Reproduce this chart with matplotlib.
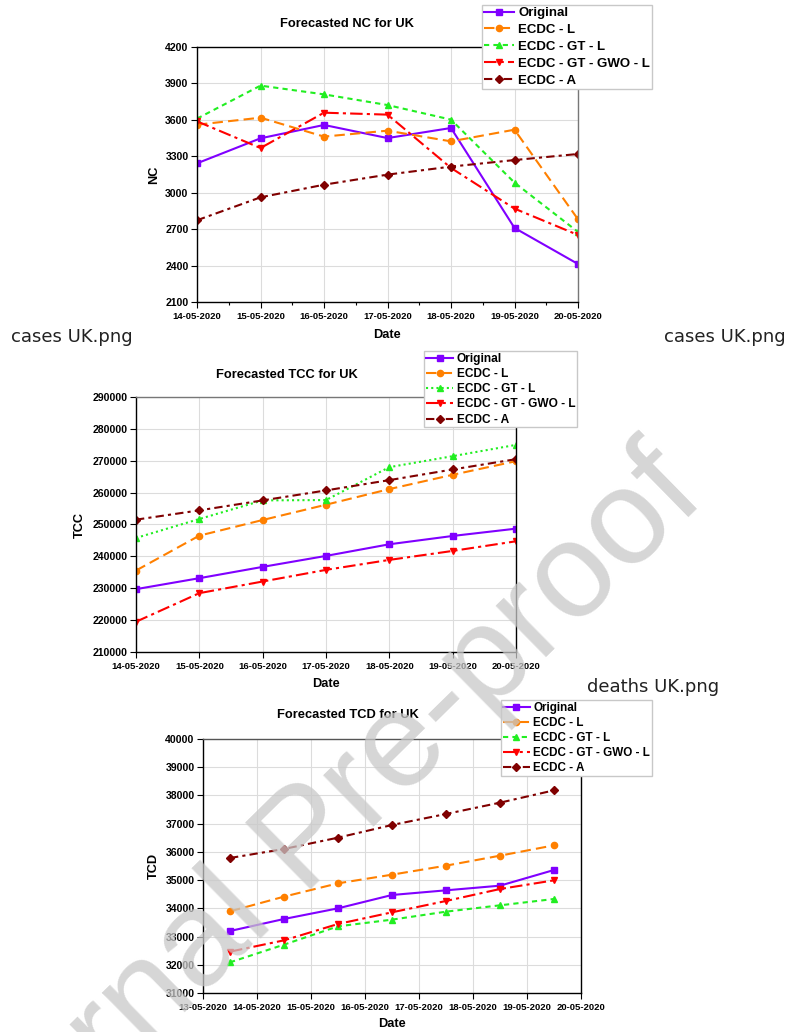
import numpy as np
import pandas as pd
import matplotlib
matplotlib.use("Agg")
import matplotlib.pyplot as plt
import matplotlib.dates as mdates

plt.rcParams['font.family'] = ['Liberation Sans', 'DejaVu Sans']
plt.rcParams['font.weight'] = 'bold'
plt.rcParams['axes.labelweight'] = 'bold'

# ---- data ----
series_names = ["Original", "ECDC - L", "ECDC - GT - L", "ECDC - GT - GWO - L", "ECDC - A"]

days_cases = ["2020-05-14", "2020-05-15", "2020-05-16", "2020-05-17",
              "2020-05-18", "2020-05-19", "2020-05-20"]

nc_original = [3242, 3448, 3558, 3450, 3533, 2710, 2413]
nc_l = [3560, 3618, 3462, 3511, 3423, 3519, 2781]
nc_gt_l = [3610, 3882, 3810, 3722, 3602, 3083, 2677]
nc_gt_gwo_l = [3588, 3368, 3659, 3643, 3204, 2869, 2652]
nc_a = [2773, 2962, 3066, 3149, 3215, 3269, 3319]

tcc_original = [229716, 233158, 236704, 240146, 243796, 246404, 248698]
tcc_l = [235557, 246508, 251410, 256208, 261110, 265594, 269871]
tcc_gt_l = [245778, 251723, 257564, 257668, 267993, 271435, 274981]
tcc_gt_gwo_l = [219495, 228465, 232115, 235766, 238894, 241710, 244735]
tcc_a = [251514, 254435, 257564, 260693, 263926, 267263, 270496]

days_deaths = ["2020-05-13 12:00", "2020-05-14 12:00", "2020-05-15 12:00", "2020-05-16 12:00",
               "2020-05-17 12:00", "2020-05-18 12:00", "2020-05-19 12:00"]

tcd_original = [33197, 33622, 34000, 34473, 34638, 34803, 35358]
tcd_l = [33894, 34414, 34886, 35193, 35512, 35866, 36232]
tcd_gt_l = [32087, 32713, 33362, 33599, 33882, 34107, 34331]
tcd_gt_gwo_l = [32465, 32866, 33445, 33859, 34260, 34685, 34992]
tcd_a = [35784, 36103, 36504, 36953, 37343, 37744, 38181]

colors = ["#8000ff", "#ff8000", "#22ee22", "#ff0000", "#800000"]
markers = ["s", "o", "^", "v", "D"]
msizes = [4, 4.5, 5, 5, 3.6]

W, H = 787, 1032
fig = plt.figure(figsize=(W / 100, H / 100), dpi=100)


def box(left, top, right, bottom):
    return [left / W, 1 - bottom / H, (right - left) / W, (bottom - top) / H]


def panel(rect, days, ys, dashes, title, title_xy, ylabel, ylim, ystep, xlim,
          leg_xy, leg_size, leg_space, ylab_x, xlab_y, minor=False,
          top_col="k", right_col="k"):
    ax = fig.add_axes(rect)
    x = pd.to_datetime(days)
    for i in range(5):
        ax.plot(x, ys[i], color=colors[i], marker=markers[i], ms=msizes[i],
                lw=1.5, dashes=dashes[i], label=series_names[i])
    ax.set_xlim(pd.to_datetime(xlim[0]), pd.to_datetime(xlim[1]))
    ax.set_ylim(ylim)
    ax.set_yticks(np.arange(ylim[0], ylim[1] + 1, ystep))
    ax.xaxis.set_major_locator(mdates.DayLocator())
    ax.xaxis.set_major_formatter(mdates.DateFormatter("%d-%m-%Y"))
    if minor:
        ax.xaxis.set_minor_locator(mdates.HourLocator(byhour=12))
        ax.tick_params(axis="x", which="minor", length=2.5, width=0.8)
    ax.tick_params(axis="x", which="major", labelsize=6.8, length=4, width=0.8, pad=3)
    ax.tick_params(axis="y", labelsize=7.6, length=4, width=0.8, pad=2)
    ax.grid(True, color="#dcdcdc", lw=0.8)
    ax.set_axisbelow(True)
    for s in ax.spines.values():
        s.set_linewidth(1.0)
    ax.spines["top"].set_color(top_col)
    ax.spines["right"].set_color(right_col)
    ax.set_xlabel("Date", fontsize=9.2)
    ax.set_ylabel(ylabel, fontsize=9.2)
    ax.xaxis.set_label_coords(0.5, xlab_y)
    ax.yaxis.set_label_coords(ylab_x, 0.5)
    fig.text(title_xy[0] / W, 1 - title_xy[1] / H, title, fontsize=9.3,
             ha="center", va="center")
    ax.legend(loc="upper left", bbox_to_anchor=(leg_xy[0] / W, 1 - leg_xy[1] / H),
              bbox_transform=fig.transFigure, borderaxespad=0, fancybox=False,
              edgecolor="#c8c8c8", framealpha=1, prop=dict(weight="bold", size=leg_size),
              handlelength=2.3, handletextpad=0.3, labelspacing=leg_space,
              borderpad=0.15)
    return ax


# panel 1 - new cases
panel(box(197, 47, 578, 302), days_cases,
      [nc_original, nc_l, nc_gt_l, nc_gt_gwo_l, nc_a],
      [(None, None), (5, 2.5), (2.5, 2), (6, 2, 1.5, 2), (4, 2, 1.5, 2)],
      "Forecasted NC for UK", (347, 24), "NC", (2100, 4200), 300,
      ("2020-05-14", "2020-05-20"), (482, 5), 9.5, 0.35, -0.097, -0.106,
      minor=True, top_col="k", right_col="#777777")

# panel 2 - total confirmed cases
panel(box(136, 397, 516, 652), days_cases,
      [tcc_original, tcc_l, tcc_gt_l, tcc_gt_gwo_l, tcc_a],
      [(None, None), (5, 2.5), (1, 1.5), (6, 2, 1.5, 2), (4, 2, 1.5, 2)],
      "Forecasted TCC for UK", (287, 375), "TCC", (210000, 290000), 10000,
      ("2020-05-14", "2020-05-20"), (424, 351), 8.6, 0.27, -0.132, -0.102,
      top_col="#777777", right_col="k")

# panel 3 - total confirmed deaths
panel(box(203, 739, 581, 993), days_deaths,
      [tcd_original, tcd_l, tcd_gt_l, tcd_gt_gwo_l, tcd_a],
      [(None, None), (5, 2.5), (2.5, 2), (6, 2, 1.5, 2), (4, 2, 1.5, 2)],
      "Forecasted TCD for UK", (348, 715), "TCD", (31000, 40000), 1000,
      ("2020-05-13", "2020-05-20"), (501, 700), 8.4, 0.27, -0.114, -0.098,
      top_col="#555555", right_col="k")

# file name captions from the page
cap = dict(fontsize=13, fontweight="normal", family="DejaVu Sans", color="#222222",
           va="center")
fig.text(11 / W, 1 - 337 / H, "cases UK.png", ha="left", **cap)
fig.text(786 / W, 1 - 337 / H, "cases UK.png", ha="right", **cap)
fig.text(587 / W, 1 - 687 / H, "deaths UK.png", ha="left", **cap)

# watermark
fig.text(308 / W, 1 - 842 / H, "Journal Pre-proof", fontsize=98, fontweight="normal",
         family="Liberation Sans", color="#c8c8c8", alpha=0.75, rotation=44.5,
         rotation_mode="anchor", ha="center", va="center", zorder=10)

fig.savefig("out.png", dpi=100)
